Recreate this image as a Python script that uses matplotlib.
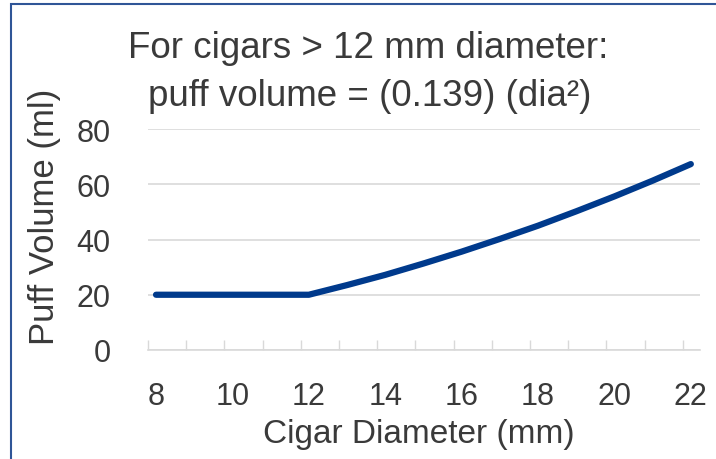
import matplotlib.pyplot as plt
from matplotlib.patches import Rectangle

plt.rcParams['font.family'] = ['Liberation Sans', 'DejaVu Sans']

# data
diameter = [8, 9, 10, 11, 12, 13, 14, 15, 16, 17, 18, 19, 20, 21, 22]
puff_volume = [20, 20, 20, 20, 20, 23.5, 27.2, 31.3, 35.6, 40.2, 45.0, 50.2, 55.6, 61.3, 67.3]
x_ticks = [8, 10, 12, 14, 16, 18, 20, 22]
y_ticks = [0, 20, 40, 60, 80]

text_col = '#3a3a3a'
grid_col = '#d9d9d9'
line_col = '#003a8c'

fig = plt.figure(figsize=(7.16, 4.60), dpi=100)
ax = fig.add_axes([148 / 716, 1 - 351 / 460, 552 / 716, 221 / 460])

ax.plot(diameter, puff_volume, color=line_col, lw=4.5, solid_capstyle='round', zorder=3)

x0 = 7.79
ax.set_xlim(x0, 22.24)
ax.set_ylim(0, 80)

ax.set_xticks(x_ticks)
ax.set_xticks([x0 + k for k in range(15)], minor=True)
ax.set_yticks(y_ticks)
ax.tick_params(axis='x', which='major', length=0, pad=22, labelsize=22, labelcolor=text_col)
ax.tick_params(axis='x', which='minor', direction='in', length=7, width=1, color=grid_col)
ax.tick_params(axis='y', length=0, pad=27, labelsize=22, labelcolor=text_col)

ax.grid(axis='y', color=grid_col, lw=1.2, zorder=0)
for s in ['top', 'right', 'left']:
    ax.spines[s].set_visible(False)
ax.spines['bottom'].set_color(grid_col)
ax.spines['bottom'].set_linewidth(1.2)

# axis titles
fig.text(419 / 716, 1 - 435 / 460, 'Cigar Diameter (mm)', fontsize=24,
         color=text_col, ha='center', va='center')
fig.text(45 / 716, 1 - 217 / 460, 'Puff Volume (ml)', fontsize=25, rotation=90,
         color=text_col, ha='center', va='center')

# chart title
fig.text(368 / 716, 1 - 48 / 460, 'For cigars > 12 mm diameter:', fontsize=26.5,
         color=text_col, ha='center', va='center')
fig.text(370 / 716, 1 - 97 / 460, 'puff volume = (0.139) (dia\u00b2)', fontsize=26.5,
         color=text_col, ha='center', va='center')

fig.patches.append(Rectangle((11 / 716, -0.1), 1.2, 1.1 - 5 / 460, transform=fig.transFigure,
                             fill=False, edgecolor='#2f5597', lw=1.5))

fig.savefig('out.png', dpi=100)
